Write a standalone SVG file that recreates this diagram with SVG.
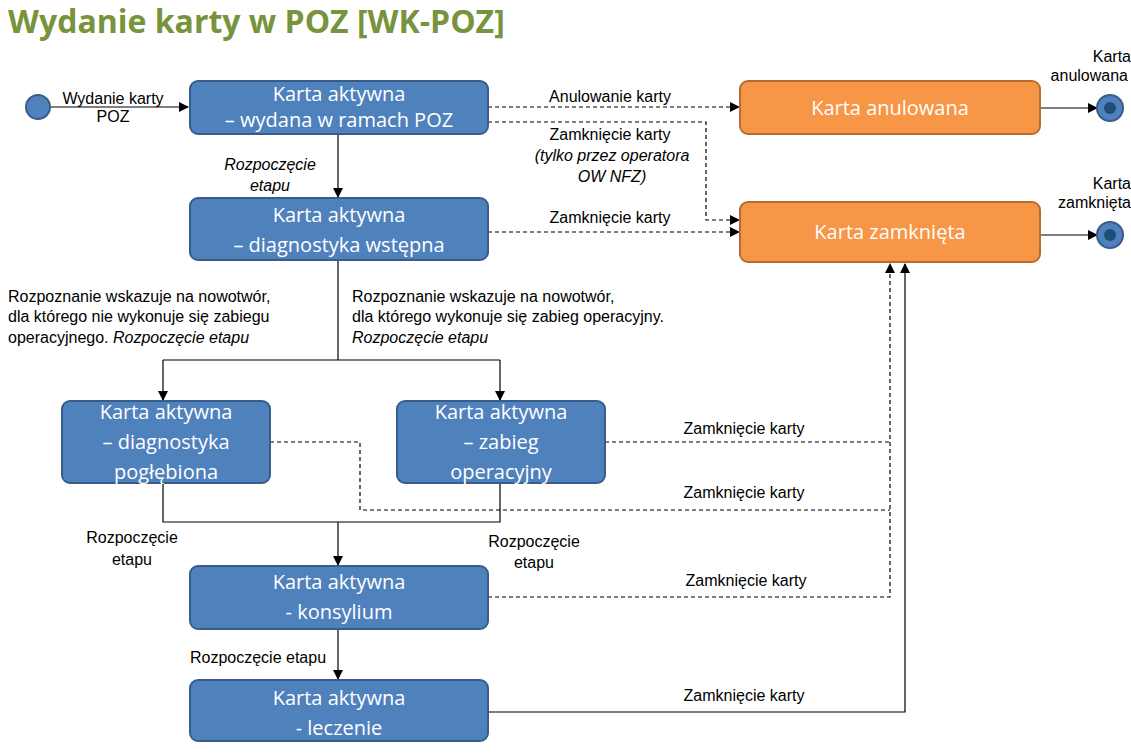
<svg xmlns="http://www.w3.org/2000/svg" width="1131" height="755" viewBox="0 0 1131 755">
<style>
.b rect{fill:#4f81bd;stroke:#385d8a;stroke-width:2}
.o rect{fill:#f79646;stroke:#b66d31;stroke-width:2}
.nt{font-family:"Open Sans","Liberation Sans",sans-serif;font-size:20px;fill:#fff;text-anchor:middle}
.l{font-family:"Liberation Sans",sans-serif;font-size:16px;fill:#000}
.i{font-style:italic}
.s{fill:none;stroke:#000;stroke-width:1.2}
.d{fill:none;stroke:#000;stroke-width:1.2;stroke-dasharray:4,3}
</style>
<defs><marker id="a" markerWidth="10" markerHeight="10" refX="9" refY="5" orient="auto" markerUnits="userSpaceOnUse"><path d="M0,0 L10,5 L0,10 z" fill="#000"/></marker></defs>
<rect width="1131" height="755" fill="#fff"/>
<text x="8" y="33" font-family="Open Sans,Liberation Sans,sans-serif" font-size="32" font-weight="bold" fill="#77933c">Wydanie karty w POZ [WK-POZ]</text>
<g id="connectors">
<path class="s" d="M50,107 H188" marker-end="url(#a)"/>
<path class="s" d="M338,134 V197" marker-end="url(#a)"/>
<path class="d" d="M488,107 H739" marker-end="url(#a)"/>
<path class="d" d="M488,122 H706 V220 H739" marker-end="url(#a)"/>
<path class="d" d="M488,232 H739" marker-end="url(#a)"/>
<path class="s" d="M1040,108 H1097" marker-end="url(#a)"/>
<path class="s" d="M1040,235 H1097" marker-end="url(#a)"/>
<path class="s" d="M338,260 V360"/>
<path class="s" d="M163,360 H500"/>
<path class="s" d="M163,360 V400" marker-end="url(#a)"/>
<path class="s" d="M500,360 V400" marker-end="url(#a)"/>
<path class="s" d="M163,483 V522 H500 V483"/>
<path class="s" d="M338,522 V565" marker-end="url(#a)"/>
<path class="s" d="M338,629 V679" marker-end="url(#a)"/>
<path class="d" d="M605,442 H890"/>
<path class="d" d="M270,442 H360 V510 H890"/>
<path class="d" d="M488,597 H890 V264" marker-end="url(#a)"/>
<path class="s" d="M488,712 H905 V264" marker-end="url(#a)"/>
</g>
<g id="start"><circle cx="38" cy="107" r="12" fill="#4f81bd" stroke="#385d8a" stroke-width="2"/></g>
<g id="end1"><circle cx="1110" cy="108" r="13" fill="#4f81bd" stroke="#385d8a" stroke-width="2"/><circle cx="1110" cy="108" r="6" fill="#1f4e79"/></g>
<g id="end2"><circle cx="1110" cy="235" r="13" fill="#4f81bd" stroke="#385d8a" stroke-width="2"/><circle cx="1110" cy="235" r="6" fill="#1f4e79"/></g>
<g id="n1" class="b"><rect x="190" y="81" width="298" height="53" rx="8"/><text class="nt" x="339" y="101">Karta aktywna</text><text class="nt" x="339" y="127">– wydana w ramach POZ</text></g>
<g id="n2" class="b"><rect x="190" y="198" width="298" height="62" rx="8"/><text class="nt" x="339" y="222">Karta aktywna</text><text class="nt" x="339" y="252">– diagnostyka wstępna</text></g>
<g id="n3" class="b"><rect x="62" y="401" width="208" height="82" rx="8"/><text class="nt" x="166" y="419">Karta aktywna</text><text class="nt" x="166" y="449">– diagnostyka</text><text class="nt" x="166" y="479">pogłębiona</text></g>
<g id="n4" class="b"><rect x="397" y="401" width="208" height="82" rx="8"/><text class="nt" x="501" y="419">Karta aktywna</text><text class="nt" x="501" y="449">– zabieg</text><text class="nt" x="501" y="479">operacyjny</text></g>
<g id="n5" class="b"><rect x="190" y="566" width="298" height="63" rx="8"/><text class="nt" x="339" y="589">Karta aktywna</text><text class="nt" x="339" y="619">- konsylium</text></g>
<g id="n6" class="b"><rect x="190" y="680" width="298" height="61" rx="8"/><text class="nt" x="339" y="705">Karta aktywna</text><text class="nt" x="339" y="735">- leczenie</text></g>
<g id="n7" class="o"><rect x="740" y="81" width="300" height="53" rx="8"/><text class="nt" x="890" y="115">Karta anulowana</text></g>
<g id="n8" class="o"><rect x="740" y="202" width="300" height="60" rx="8"/><text class="nt" x="890" y="239">Karta zamknięta</text></g>
<g id="labels" class="l">
<text x="113" y="104" text-anchor="middle">Wydanie karty</text><text x="113" y="122" text-anchor="middle">POZ</text>
<text x="610" y="102" text-anchor="middle">Anulowanie karty</text>
<text x="610" y="140" text-anchor="middle">Zamknięcie karty</text>
<text x="612" y="161" text-anchor="middle" class="i">(tylko przez operatora</text>
<text x="612" y="182" text-anchor="middle" class="i">OW NFZ)</text>
<text x="610" y="223" text-anchor="middle">Zamknięcie karty</text>
<text x="1131" y="62" text-anchor="end">Karta</text><text x="1128" y="81" text-anchor="end">anulowana</text>
<text x="1131" y="189" text-anchor="end">Karta</text><text x="1131" y="208" text-anchor="end">zamknięta</text>
<text x="270" y="170" text-anchor="middle" class="i">Rozpoczęcie</text><text x="270" y="191" text-anchor="middle" class="i">etapu</text>
<text x="8" y="302">Rozpoznanie wskazuje na nowotwór,</text>
<text x="8" y="322">dla którego nie wykonuje się zabiegu</text>
<text x="8" y="343">operacyjnego. <tspan class="i">Rozpoczęcie etapu</tspan></text>
<text x="352" y="302">Rozpoznanie wskazuje na nowotwór,</text>
<text x="352" y="322">dla którego wykonuje się zabieg operacyjny.</text>
<text x="352" y="343" class="i">Rozpoczęcie etapu</text>
<text x="744" y="434" text-anchor="middle">Zamknięcie karty</text>
<text x="744" y="498" text-anchor="middle">Zamknięcie karty</text>
<text x="132" y="543" text-anchor="middle">Rozpoczęcie</text><text x="132" y="565" text-anchor="middle">etapu</text>
<text x="534" y="547" text-anchor="middle">Rozpoczęcie</text><text x="534" y="568" text-anchor="middle">etapu</text>
<text x="746" y="586" text-anchor="middle">Zamknięcie karty</text>
<text x="258" y="663" text-anchor="middle">Rozpoczęcie etapu</text>
<text x="744" y="701" text-anchor="middle">Zamknięcie karty</text>
</g>
</svg>
